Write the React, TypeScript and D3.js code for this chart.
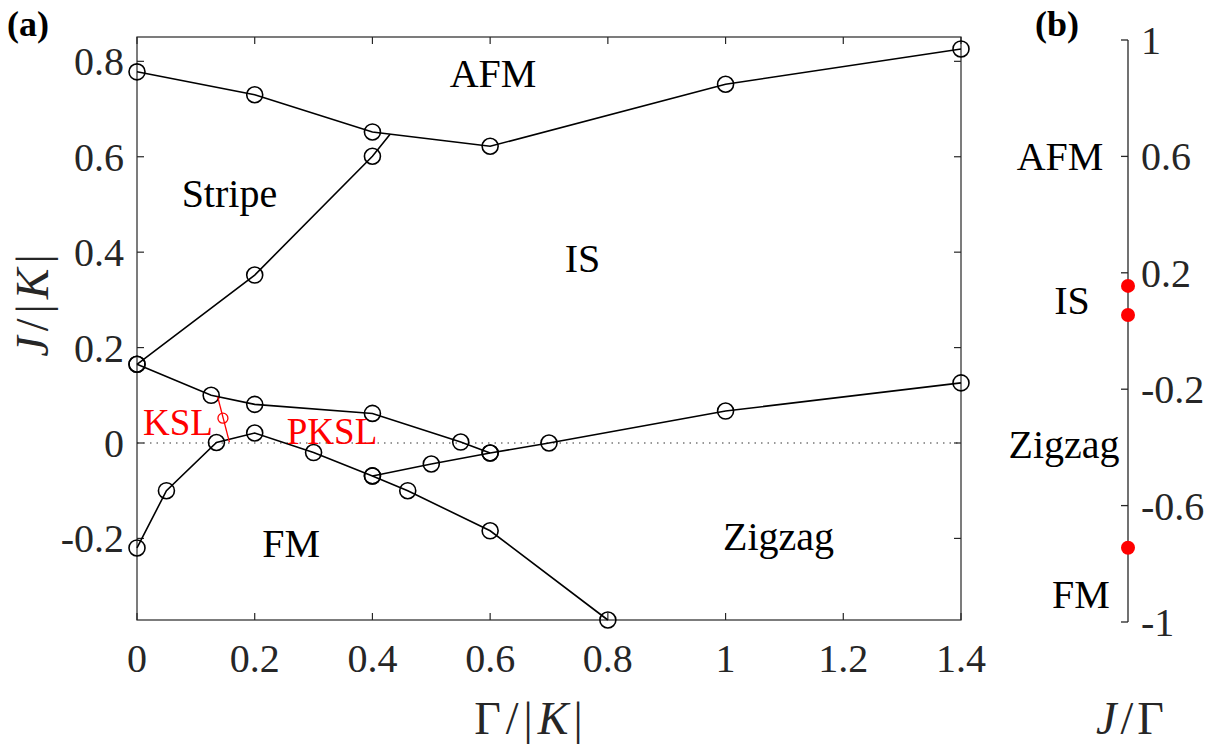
import * as d3 from "d3";

// panel (a) boundary lines: [Gamma/|K|, J/|K|]
const afmLine = [[0, 0.778], [0.2, 0.73], [0.4, 0.652], [0.6, 0.622], [1, 0.752], [1.4, 0.826]];
const stripeIsLine = [[0, 0.165], [0.2, 0.352], [0.4, 0.601], [0.43, 0.647]];
const stripeIsMarks = [[0, 0.165], [0.2, 0.352], [0.4, 0.601]];
const upperLowLine = [[0, 0.165], [0.126, 0.1], [0.2, 0.081], [0.4, 0.062], [0.55, 0.002], [0.6, -0.021]];
const fmLine = [[0, -0.22], [0.05, -0.1], [0.135, 0.001], [0.2, 0.021], [0.3, -0.02], [0.4, -0.069], [0.46, -0.1], [0.6, -0.184], [0.8, -0.371]];
const zigzagLine = [[0.4, -0.069], [0.5, -0.044], [0.6, -0.021], [0.7, 0.0], [1, 0.067], [1.4, 0.126]];
const kslLine = [[0.137, 0.097], [0.157, 0.002]];
const kslPoint = [0.146, 0.052];

const xTicks = [0, 0.2, 0.4, 0.6, 0.8, 1, 1.2, 1.4];
const yTicks = [-0.2, 0, 0.2, 0.4, 0.6, 0.8];

const regionLabels = [
  { text: "AFM", x: 0.605, y: 0.775 },
  { text: "Stripe", x: 0.157, y: 0.525 },
  { text: "IS", x: 0.757, y: 0.388 },
  { text: "FM", x: 0.262, y: -0.21 },
  { text: "Zigzag", x: 1.09, y: -0.195 },
];

// panel (b): J/Gamma
const bTicks = [1, 0.6, 0.2, -0.2, -0.6, -1];
const bPoints = [0.155, 0.055, -0.745];
const bLabels = [
  { text: "AFM", y: 0.6, cx: 1060 },
  { text: "IS", y: 0.107, cx: 1072 },
  { text: "Zigzag", y: -0.39, cx: 1064 },
  { text: "FM", y: -0.905, cx: 1081 },
];

const AX = "#262626";
const serif = { fontFamily: '"Liberation Serif"' };

export default function App() {
  const x = d3.scaleLinear().domain([0, 1.4]).range([137, 961]);
  const y = d3.scaleLinear().domain([-0.371, 0.851]).range([620, 37]);
  const yb = d3.scaleLinear().domain([-1, 1]).range([622, 40]);
  const line = d3.line<number[]>().x((d) => x(d[0])).y((d) => y(d[1]));
  const [x0, x1] = x.range();
  const [y0, y1] = y.range();
  const tl = 7;
  const fs = 40;

  const circles = (pts: number[][], key: string) =>
    pts.map((d, i) => (
      <circle key={key + i} cx={x(d[0])} cy={y(d[1])} r={8} fill="none" stroke="#000" strokeWidth={1.6} />
    ));

  return (
    <svg width={1212} height={751} style={{ position: "absolute", left: 0, top: 0, background: "#fff" }}>
      <rect width={1212} height={751} fill="#fff" />
      {/* zero line */}
      <line x1={x0} x2={x1} y1={y(0)} y2={y(0)} stroke="#777" strokeWidth={1.3} strokeDasharray="1.5 5" />
      {/* axes box */}
      <rect x={x0} y={y1} width={x1 - x0} height={y0 - y1} fill="none" stroke={AX} strokeWidth={1.2} />
      {xTicks.map((t) => (
        <g key={"xt" + t}>
          <line x1={x(t)} x2={x(t)} y1={y0} y2={y0 - tl} stroke={AX} strokeWidth={1.2} />
          <line x1={x(t)} x2={x(t)} y1={y1} y2={y1 + tl} stroke={AX} strokeWidth={1.2} />
          <text x={x(t)} y={y0 + 52} textAnchor="middle" fontSize={fs} fill={AX} style={serif}>{String(t)}</text>
        </g>
      ))}
      {yTicks.map((t) => (
        <g key={"yt" + t}>
          <line x1={x0} x2={x0 + tl} y1={y(t)} y2={y(t)} stroke={AX} strokeWidth={1.2} />
          <line x1={x1} x2={x1 - tl} y1={y(t)} y2={y(t)} stroke={AX} strokeWidth={1.2} />
          <text x={x0 - 13} y={y(t) + 14} textAnchor="end" fontSize={fs} fill={AX} style={serif}>{String(t)}</text>
        </g>
      ))}
      {/* boundary lines */}
      {[afmLine, stripeIsLine, upperLowLine, fmLine, zigzagLine].map((l, i) => (
        <path key={"l" + i} d={line(l) || ""} fill="none" stroke="#000" strokeWidth={1.6} />
      ))}
      {circles(afmLine, "a")}
      {circles(stripeIsMarks, "s")}
      {circles(upperLowLine, "u")}
      {circles(fmLine, "f")}
      {circles(zigzagLine, "z")}
      {/* KSL */}
      <path d={line(kslLine) || ""} fill="none" stroke="#f00" strokeWidth={1.3} />
      <circle cx={x(kslPoint[0])} cy={y(kslPoint[1])} r={5} fill="none" stroke="#f00" strokeWidth={1.3} />
      <text x={178} y={435} textAnchor="middle" fontSize={37} fill="#f00" style={serif}>KSL</text>
      <text x={332} y={444} textAnchor="middle" fontSize={37} fill="#f00" style={serif}>PKSL</text>
      {regionLabels.map((r) => (
        <text key={r.text} x={x(r.x)} y={y(r.y) + 14} textAnchor="middle" fontSize={fs} fill="#000" style={serif}>{r.text}</text>
      ))}
      {/* axis labels */}
      <text x={531} y={734} textAnchor="middle" fontSize={46} letterSpacing={5} fill={AX} style={serif}>
        <tspan>Γ/|</tspan><tspan fontStyle="italic">K</tspan><tspan>|</tspan>
      </text>
      <text transform="translate(48,303) rotate(-90)" textAnchor="middle" fontSize={46} letterSpacing={5} fill={AX} style={serif}>
        <tspan fontStyle="italic">J</tspan><tspan>/|</tspan><tspan fontStyle="italic">K</tspan><tspan>|</tspan>
      </text>
      <text x={28} y={36} textAnchor="middle" fontSize={36} fontWeight="bold" style={serif}>(a)</text>

      {/* panel (b) */}
      <text x={1057} y={36} textAnchor="middle" fontSize={36} fontWeight="bold" style={serif}>(b)</text>
      <line x1={1128} x2={1128} y1={yb(1)} y2={yb(-1)} stroke={AX} strokeWidth={1.3} />
      {bTicks.map((t) => (
        <g key={"bt" + t}>
          <line x1={1128} x2={1121} y1={yb(t)} y2={yb(t)} stroke={AX} strokeWidth={1.3} />
          <text x={1141} y={yb(t) + 14} textAnchor="start" fontSize={fs} fill={AX} style={serif}>{String(t)}</text>
        </g>
      ))}
      {bPoints.map((p) => (
        <circle key={"bp" + p} cx={1128} cy={yb(p)} r={7} fill="#f00" />
      ))}
      {bLabels.map((l) => (
        <text key={"bl" + l.text} x={l.cx} y={yb(l.y) + 14} textAnchor="middle" fontSize={fs} fill="#000" style={serif}>{l.text}</text>
      ))}
      <text x={1132} y={734} textAnchor="middle" fontSize={46} letterSpacing={4} fill={AX} style={serif}>
        <tspan fontStyle="italic">J</tspan><tspan>/Γ</tspan>
      </text>
    </svg>
  );
}
